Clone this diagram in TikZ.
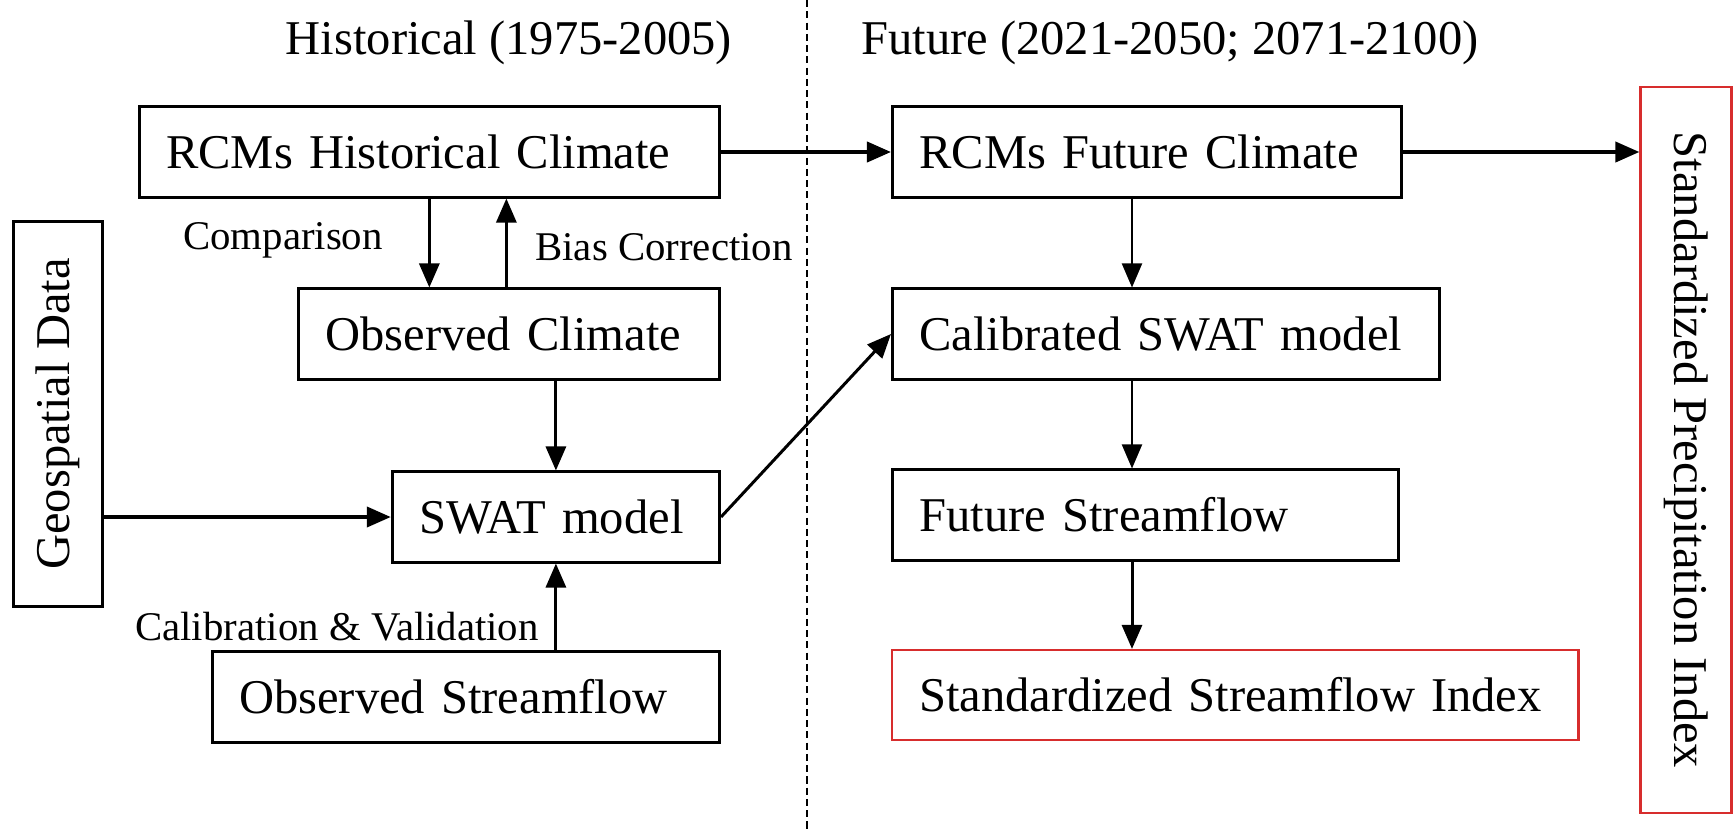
\documentclass[tikz,border=0pt]{standalone}
\usepackage{fontspec}
\setmainfont{Liberation Serif}
\usetikzlibrary{arrows.meta}
\definecolor{boxred}{RGB}{215,45,45}
\newcommand{\boxfont}{\fontsize{13.8}{16}\selectfont}
\newcommand{\notefont}{\fontsize{11.6}{13}\selectfont}
\tikzset{%
	box/.style = { draw, line width=.85pt, minimum height=.9cm, inner xsep=.27cm, inner ysep=0pt, align=left, font=\boxfont },
	redbox/.style = { box, draw=boxred, line width=.6pt },
	note/.style = { font=\notefont, inner sep=0pt },
	title/.style = { font=\boxfont, inner sep=0pt },
	flow/.style = { -{Triangle[length=.24cm, width=.2cm]}, line width=.85pt },
	thinflow/.style = { flow, line width=.6pt },
	thickflow/.style = { flow, line width=1.1pt }
}

\begin{document}
\begin{tikzpicture}[x=0.01cm, y=-0.01cm]
	\useasboundingbox (0,0) rectangle (1735,830);
	% titles and separator
	\node[title] (histtitle) at (509,43) {Historical (1975-2005)};
	\node[title] (futtitle) at (1170,43) {Future (2021-2050; 2071-2100)};
	\draw[line width=.45pt, dash pattern=on 2pt off 1.2pt] (807,0) -- (807,830);
	% historical column
	\node[box, anchor=east, text width=5.26cm] (hist) at (721,152) {RCMs Historical Climate};
	\node[box, anchor=east, text width=3.67cm] (obsclim) at (721,334) {Observed Climate};
	\node[box, anchor=east, text width=2.73cm] (swat) at (721,517) {SWAT model};
	\node[box, anchor=east, text width=4.53cm] (obsflow) at (721,697) {Observed Streamflow};
	\node[box, rotate=90, align=center, minimum width=3.84cm, minimum height=.89cm] (geo) at (58,414) {Geospatial Data};
	% future column
	\node[box, anchor=west, text width=4.55cm] (fut) at (891,152) {RCMs Future Climate};
	\node[box, anchor=west, text width=4.93cm] (calib) at (891,334) {Calibrated SWAT model};
	\node[box, anchor=west, text width=4.52cm] (futflow) at (891,515) {Future Streamflow};
	\node[redbox, anchor=west, text width=6.32cm] (ssi) at (891,695) {Standardized Streamflow Index};
	\node[redbox, rotate=-90, align=center, minimum width=7.26cm, minimum height=.91cm] (spi) at (1686,450) {Standardized Precipitation Index};
	% labels
	\node[note] (cmp) at (283,240) {Comparison};
	\node[note] (bias) at (664,247) {Bias Correction};
	\node[note] (calval) at (337,627) {Calibration \& Validation};
	% connectors
	\coordinate (rcol) at (1132,0);
	\draw[flow] (hist.south) -- (hist.south |- obsclim.north);
	\draw[flow] ([xshift=.77cm]hist.south |- obsclim.north) -- ([xshift=.77cm]hist.south);
	\draw[flow] (swat.north |- obsclim.south) -- (swat.north);
	\draw[flow] (swat.south |- obsflow.north) -- (swat.south);
	\draw[thickflow] (swat.west -| geo.south) -- (swat.west);
	\draw[flow] (swat.east) -- (calib.west);
	\draw[thickflow] (hist.east) -- (fut.west);
	\draw[thickflow] (fut.east) -- (fut.east -| spi.south);
	\draw[thinflow] (fut.south -| rcol) -- (calib.north -| rcol);
	\draw[thinflow] (calib.south -| rcol) -- (futflow.north -| rcol);
	\draw[flow] (futflow.south -| rcol) -- (ssi.north -| rcol);
\end{tikzpicture}
\end{document}
